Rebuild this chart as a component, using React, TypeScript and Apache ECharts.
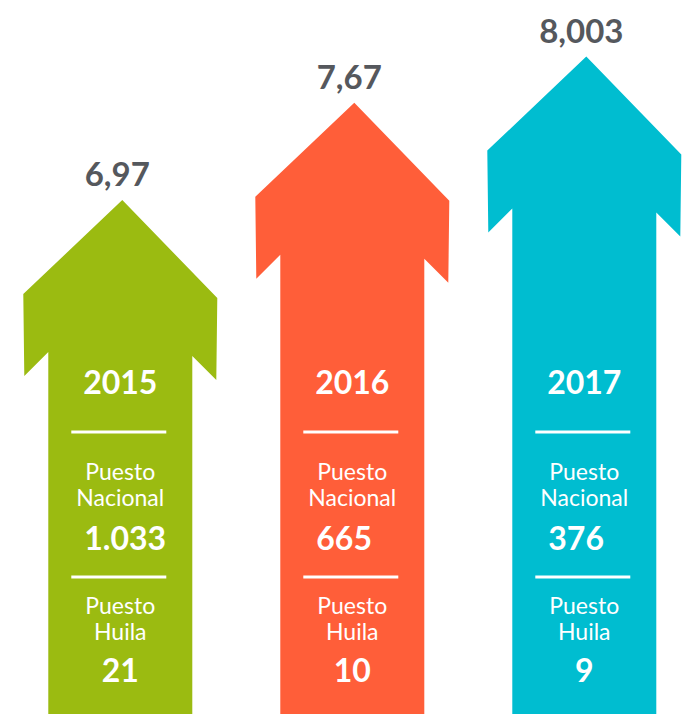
import React, { useEffect, useRef } from 'react';
import * as echarts from 'echarts';

const years = ['2015', '2016', '2017'];
const indexValues = [6.97, 7.67, 8.003];
const indexLabels = ['6,97', '7,67', '8,003'];
const nationalRanks = ['1.033', '665', '376'];
const huilaRanks = ['21', '10', '9'];
const arrowColors = ['#9bbb11', '#ff5e39', '#00bdd0'];
const Y_MIN = 3.27;
const Y_MAX = 8.41;

const FONT = 'Lato, "Open Sans", sans-serif';

export default function App() {
  const ref = useRef<HTMLDivElement>(null);
  useEffect(() => {
    if (!ref.current) return;
    const chart = echarts.init(ref.current, null, { renderer: 'svg' });
    const renderItem = (params: any, api: any) => {
      const i = api.value(0);
      const v = api.value(1);
      const tip = api.coord([i, v]);
      const base = api.coord([i, Y_MIN]);
      const cx = tip[0];
      const ty = tip[1];
      const by = base[1];
      const hw = 97;
      const sw = 72;
      const pts = [
        [cx + 2, ty],
        [cx + hw, ty + 98],
        [cx + hw - 1, ty + 180],
        [cx + sw, ty + 156],
        [cx + sw, by + 2],
        [cx - sw, by + 2],
        [cx - sw, ty + 152],
        [cx - hw + 1, ty + 176],
        [cx - hw, ty + 94],
      ];
      const white = '#ffffff';
      const txt = (text: string, y: number, size: number, weight: any, x = cx, align = 'center', lh?: number) => ({
        type: 'text',
        style: {
          text,
          x,
          y,
          fill: white,
          fontSize: size,
          fontWeight: weight,
          fontFamily: FONT,
          align,
          verticalAlign: 'middle',
          lineHeight: lh,
        },
      });
      const line = (y: number) => ({
        type: 'line',
        shape: { x1: cx - 49, y1: y, x2: cx + 46, y2: y },
        style: { stroke: white, lineWidth: 3 },
      });
      return {
        type: 'group',
        children: [
          { type: 'polygon', shape: { points: pts }, style: { fill: arrowColors[i] } },
          {
            type: 'text',
            style: {
              text: indexLabels[i],
              x: cx - 3,
              y: ty - 27,
              fill: '#55585d',
              fontSize: 33,
              fontWeight: 'bold',
              fontFamily: FONT,
              align: 'center',
              verticalAlign: 'middle',
            },
          },
          txt(years[i], by - 333, 32, 'bold'),
          line(by - 282),
          txt('Puesto\nNacional', by - 230, 23, 'normal', cx, 'center', 26),
          txt(nationalRanks[i], by - 177, 32, 'bold', cx - 36, 'left'),
          line(by - 137),
          txt('Puesto\nHuila', by - 96, 23, 'normal', cx, 'center', 26),
          txt(huilaRanks[i], by - 45, 32, 'bold'),
        ],
      };
    };
    chart.setOption({
      animation: false,
      grid: { left: 0, top: 0, right: 0, bottom: 0 },
      xAxis: { type: 'value', min: -0.5185, max: 2.447, show: false },
      yAxis: { type: 'value', min: Y_MIN, max: Y_MAX, show: false },
      series: [
        {
          type: 'custom',
          renderItem,
          clip: false,
          data: indexValues.map((v, i) => [i, v]),
        },
      ],
    });
    return () => chart.dispose();
  }, []);
  return (
    <div
      ref={ref}
      style={{ position: 'fixed', left: 0, top: 0, width: 688, height: 714, background: '#fff' }}
    />
  );
}
